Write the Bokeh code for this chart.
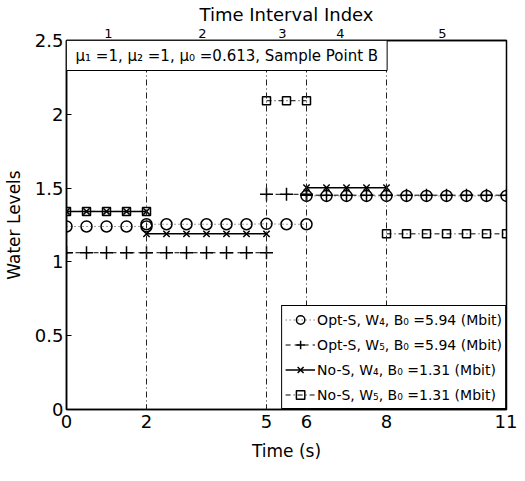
import numpy as np
from bokeh.plotting import figure
from bokeh.models import (Range1d, FixedTicker, LinearAxis, Span, Label, Legend,
                          LegendItem, ColumnDataSource)
from bokeh.embed import file_html
from bokeh.resources import INLINE

nan = float("nan")

# ---- data; NaN separates time intervals ----
opt_w4_t = [0, 0.5, 1, 1.5, 2, nan, 2, 2.5, 3, 3.5, 4, 4.5, 5, 5.5, 6, nan,
            6, 6.5, 7, 7.5, 8, 8.5, 9, 9.5, 10, 10.5, 11]
opt_w4_v = [1.24, 1.24, 1.24, 1.24, 1.24, nan, 1.255, 1.255, 1.255, 1.255, 1.255, 1.255, 1.258, 1.255, 1.255, nan,
            1.447, 1.447, 1.447, 1.447, 1.447, 1.447, 1.447, 1.447, 1.447, 1.447, 1.447]

opt_w5_t = [0, 0.5, 1, 1.5, 2, 2.5, 3, 3.5, 4, 4.5, 5, nan, 5, 5.5, 6, nan,
            6, 6.5, 7, 7.5, 8, 8.5, 9, 9.5, 10, 10.5, 11]
opt_w5_v = [1.062, 1.062, 1.062, 1.062, 1.062, 1.062, 1.062, 1.062, 1.062, 1.062, 1.062, nan, 1.458, 1.458, 1.458, nan,
            1.452, 1.452, 1.452, 1.452, 1.452, 1.452, 1.452, 1.452, 1.452, 1.452, 1.452]

nos_w4_t = [0, 0.5, 1, 1.5, 2, nan, 2, 2.5, 3, 3.5, 4, 4.5, 5, nan, 6, 6.5, 7, 7.5, 8]
nos_w4_v = [1.342, 1.342, 1.342, 1.342, 1.342, nan, 1.19, 1.19, 1.19, 1.19, 1.19, 1.19, 1.19, nan,
            1.503, 1.503, 1.503, 1.503, 1.503]

nos_w5_t = [0, 0.5, 1, 1.5, 2, nan, 5, 5.5, 6, nan, 8, 8.5, 9, 9.5, 10, 10.5, 11]
nos_w5_v = [1.342, 1.342, 1.342, 1.342, 1.342, nan, 2.092, 2.092, 2.092, nan,
            1.19, 1.19, 1.19, 1.19, 1.19, 1.19, 1.19]

x_ticks = [0, 2, 5, 6, 8, 11]
y_ticks = [0, 0.5, 1, 1.5, 2, 2.5]
y_tick_labels = ["0", "0.5", "1", "1.5", "2", "2.5"]
interval_pos = [1.05, 3.4, 5.4, 6.85, 9.4]
interval_labels = ["1", "2", "3", "4", "5"]
boundaries = [2, 5, 6, 8]

legend_labels = ["Opt-S, W\u2084, B\u2080 =5.94 (Mbit)",
                 "Opt-S, W\u2085, B\u2080 =5.94 (Mbit)",
                 "No-S, W\u2084, B\u2080 =1.31 (Mbit)",
                 "No-S, W\u2085, B\u2080 =1.31 (Mbit)"]
box_text = "\u03bc\u2081 =1, \u03bc\u2082 =1, \u03bc\u2080 =0.613, Sample Point B"

FONT = "DejaVu Sans"

p = figure(width=517, height=473, output_backend="svg", toolbar_location=None,
           x_range=Range1d(0, 11), y_range=Range1d(0, 2.5),
           min_border_left=63, min_border_right=11, min_border_top=37, min_border_bottom=64)
p.xgrid.visible = False
p.ygrid.visible = False
p.outline_line_color = "black"
p.outline_line_width = 1.5
p.outline_line_alpha = 1.0

# bottom axis
xa = p.xaxis[0]
xa.ticker = FixedTicker(ticks=x_ticks)
xa.major_label_overrides = {t: str(t) for t in x_ticks}
xa.major_label_text_font = FONT
xa.major_label_text_font_size = "18px"
xa.major_label_text_color = "black"
xa.major_tick_in = 5
xa.major_tick_out = 0
xa.minor_tick_line_color = None
xa.major_label_standoff = 5
xa.axis_line_width = 1.5
xa.axis_line_color = "black"
xa.major_tick_line_color = "black"
xa.axis_label = "Time (s)"
xa.axis_label_text_font = FONT
xa.axis_label_text_font_size = "17px"
xa.axis_label_text_font_style = "normal"
xa.axis_label_text_color = "black"
xa.axis_label_standoff = 10

# left axis
ya = p.yaxis[0]
ya.ticker = FixedTicker(ticks=y_ticks)
ya.major_label_overrides = dict(zip(y_ticks, y_tick_labels))
ya.major_label_text_font = FONT
ya.major_label_text_font_size = "18px"
ya.major_label_text_color = "black"
ya.major_tick_in = 5
ya.major_tick_out = 0
ya.minor_tick_line_color = None
ya.major_label_standoff = 3
ya.axis_line_width = 1.5
ya.axis_line_color = "black"
ya.major_tick_line_color = "black"
ya.axis_label = "Water Levels"
ya.axis_label_text_font = FONT
ya.axis_label_text_font_size = "17px"
ya.axis_label_text_font_style = "normal"
ya.axis_label_text_color = "black"
ya.axis_label_standoff = 8

# top axis: time interval index
ta = LinearAxis(ticker=FixedTicker(ticks=interval_pos),
                major_label_overrides=dict(zip(interval_pos, interval_labels)),
                major_label_text_font=FONT, major_label_text_font_size="13px",
                major_label_text_color="black",
                major_tick_in=0, major_tick_out=0, minor_tick_line_color=None,
                major_label_standoff=3, axis_line_color="black", axis_line_width=1.5,
                axis_label="Time Interval Index", axis_label_text_font=FONT,
                axis_label_text_font_size="18px", axis_label_text_font_style="normal",
                axis_label_text_color="black", axis_label_standoff=1)
p.add_layout(ta, "above")

# interval boundaries
for b in boundaries:
    p.add_layout(Span(location=b, dimension="height", line_color="#222222",
                      line_width=1, line_dash="6 3 1 3"))

# series
s1 = ColumnDataSource(dict(t=opt_w4_t, v=opt_w4_v))
s2 = ColumnDataSource(dict(t=opt_w5_t, v=opt_w5_v))
s3 = ColumnDataSource(dict(t=nos_w4_t, v=nos_w4_v))
s4 = ColumnDataSource(dict(t=nos_w5_t, v=nos_w5_v))

l1 = p.line("t", "v", source=s1, line_color="#444444", line_width=1, line_dash="1 3")
m1 = p.scatter("t", "v", source=s1, marker="circle", size=11, fill_color=None,
               line_color="black", line_width=1.5)
l2 = p.line("t", "v", source=s2, line_color="black", line_width=1, line_dash="5 4")
m2 = p.scatter("t", "v", source=s2, marker="cross", size=13,
               line_color="black", line_width=1.5)
l3 = p.line("t", "v", source=s3, line_color="black", line_width=1.5)
m3 = p.scatter("t", "v", source=s3, marker="x", size=9,
               line_color="black", line_width=1.5)
l4 = p.line("t", "v", source=s4, line_color="black", line_width=1, line_dash="5 3 1 3")
m4 = p.scatter("t", "v", source=s4, marker="square", size=8, fill_color=None,
               line_color="black", line_width=1.5)

# parameter box
p.add_layout(Label(x=0, y=2.5, text=box_text, text_font=FONT, text_font_size="15px",
                   text_color="black", text_align="left", text_baseline="top",
                   border_line_color="black", border_line_width=1,
                   background_fill_color="white", padding=(9, 6)))

legend = Legend(items=[LegendItem(label=legend_labels[0], renderers=[l1, m1]),
                       LegendItem(label=legend_labels[1], renderers=[l2, m2]),
                       LegendItem(label=legend_labels[2], renderers=[l3, m3]),
                       LegendItem(label=legend_labels[3], renderers=[l4, m4])],
                location="bottom_right", margin=0, padding=3, spacing=4,
                glyph_width=30, glyph_height=21, label_height=21, label_standoff=2,
                label_text_font=FONT, label_text_font_size="14px",
                label_text_color="black",
                border_line_color="black", border_line_width=1.5, border_line_alpha=1,
                background_fill_color="white", background_fill_alpha=1)
p.add_layout(legend)

open("out.html", "w").write(file_html(p, INLINE))
